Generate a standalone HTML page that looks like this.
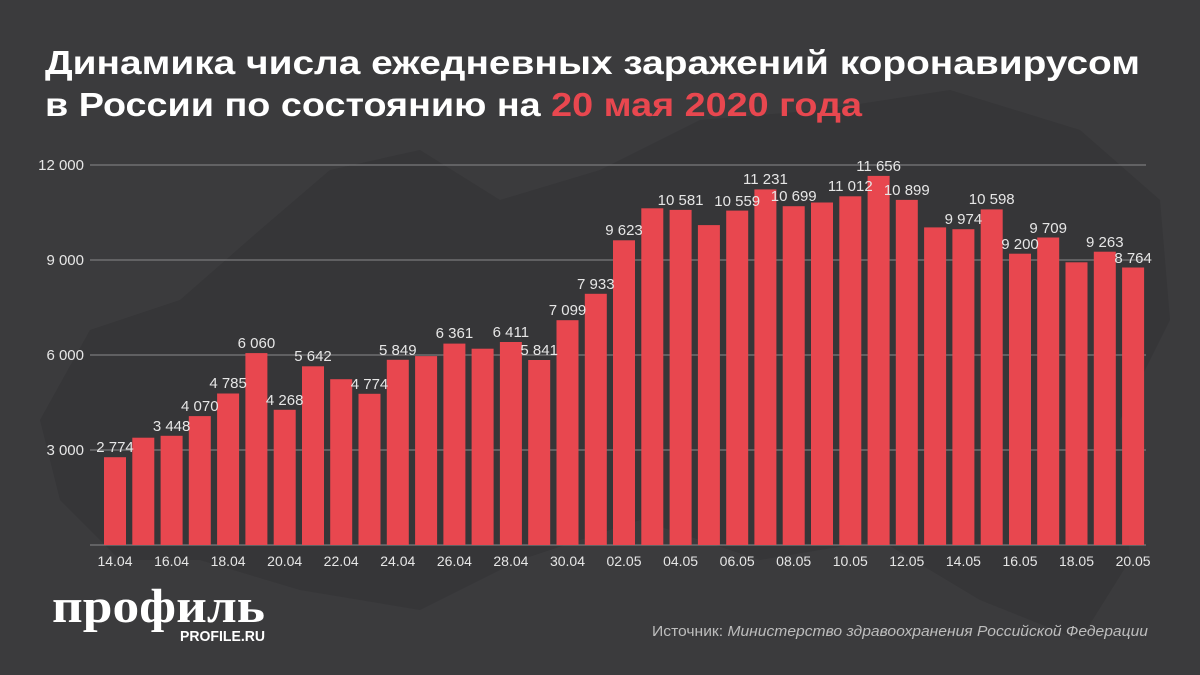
<!DOCTYPE html>
<html><head><meta charset="utf-8"><style>
body{margin:0;background:#3b3b3d;}
svg{display:block}
</style></head><body>
<svg width="1200" height="675" viewBox="0 0 1200 675" xmlns="http://www.w3.org/2000/svg" font-family="Liberation Sans, sans-serif">
<rect width="1200" height="675" fill="#3b3b3d"/>
<path d="M40 420 L90 330 L180 300 L260 230 L330 170 L420 150 L500 200 L600 170 L700 120 L820 110 L950 90 L1080 130 L1160 200 L1170 320 L1120 420 L1130 560 L1080 640 L980 600 L880 540 L760 560 L640 520 L520 560 L420 610 L300 590 L200 560 L120 560 L60 500 Z" fill="#363638"/>
<text x="45" y="74" font-size="33" font-weight="bold" fill="#fff" textLength="1095" lengthAdjust="spacingAndGlyphs">Динамика числа ежедневных заражений коронавирусом</text>
<text x="45" y="116" font-size="33" font-weight="bold" fill="#fff" textLength="817" lengthAdjust="spacingAndGlyphs">в России по состоянию на <tspan fill="#e8474f">20 мая 2020 года</tspan></text>
<g stroke="#8a8a8c" stroke-width="1">
<line x1="90" y1="165" x2="1146" y2="165"/><line x1="90" y1="260" x2="1146" y2="260"/>
<line x1="90" y1="355" x2="1146" y2="355"/><line x1="90" y1="450" x2="1146" y2="450"/>
<line x1="90" y1="545" x2="1146" y2="545"/>
</g>
<g font-size="15" fill="#e6e6e6" text-anchor="end">
<text x="84" y="170">12 000</text><text x="84" y="265">9 000</text><text x="84" y="360">6 000</text><text x="84" y="455">3 000</text>
</g>
<g fill="#e8474f">
<rect x="104" y="457.2" width="22" height="87.8"/>
<rect x="132.3" y="437.7" width="22" height="107.3"/>
<rect x="160.6" y="435.8" width="22" height="109.2"/>
<rect x="188.8" y="416.1" width="22" height="128.9"/>
<rect x="217.1" y="393.5" width="22" height="151.5"/>
<rect x="245.4" y="353.1" width="22" height="191.9"/>
<rect x="273.7" y="409.8" width="22" height="135.2"/>
<rect x="302" y="366.3" width="22" height="178.7"/>
<rect x="330.2" y="379.2" width="22" height="165.8"/>
<rect x="358.5" y="393.8" width="22" height="151.2"/>
<rect x="386.8" y="359.8" width="22" height="185.2"/>
<rect x="415.1" y="356.1" width="22" height="188.9"/>
<rect x="443.4" y="343.6" width="22" height="201.4"/>
<rect x="471.6" y="348.7" width="22" height="196.3"/>
<rect x="499.9" y="342" width="22" height="203"/>
<rect x="528.2" y="360" width="22" height="185"/>
<rect x="556.5" y="320.2" width="22" height="224.8"/>
<rect x="584.8" y="293.8" width="22" height="251.2"/>
<rect x="613" y="240.3" width="22" height="304.7"/>
<rect x="641.3" y="208.3" width="22" height="336.7"/>
<rect x="669.6" y="209.9" width="22" height="335.1"/>
<rect x="697.9" y="225.1" width="22" height="319.9"/>
<rect x="726.2" y="210.6" width="22" height="334.4"/>
<rect x="754.4" y="189.4" width="22" height="355.6"/>
<rect x="782.7" y="206.2" width="22" height="338.8"/>
<rect x="811" y="202.5" width="22" height="342.5"/>
<rect x="839.3" y="196.3" width="22" height="348.7"/>
<rect x="867.6" y="175.9" width="22" height="369.1"/>
<rect x="895.8" y="199.9" width="22" height="345.1"/>
<rect x="924.1" y="227.4" width="22" height="317.6"/>
<rect x="952.4" y="229.2" width="22" height="315.8"/>
<rect x="980.7" y="209.4" width="22" height="335.6"/>
<rect x="1009" y="253.7" width="22" height="291.3"/>
<rect x="1037.2" y="237.5" width="22" height="307.5"/>
<rect x="1065.5" y="262.3" width="22" height="282.7"/>
<rect x="1093.8" y="251.7" width="22" height="293.3"/>
<rect x="1122.1" y="267.5" width="22" height="277.5"/>
</g>
<g font-size="15" fill="#e6e6e6" text-anchor="middle">
<text x="115" y="452">2 774</text>
<text x="171.6" y="431">3 448</text>
<text x="199.8" y="411">4 070</text>
<text x="228.1" y="388">4 785</text>
<text x="256.4" y="348">6 060</text>
<text x="284.7" y="405">4 268</text>
<text x="313" y="361">5 642</text>
<text x="369.5" y="389">4 774</text>
<text x="397.8" y="355">5 849</text>
<text x="454.4" y="338">6 361</text>
<text x="510.9" y="337">6 411</text>
<text x="539.2" y="355">5 841</text>
<text x="567.5" y="315">7 099</text>
<text x="595.8" y="289">7 933</text>
<text x="624" y="235">9 623</text>
<text x="680.6" y="205">10 581</text>
<text x="737.2" y="206">10 559</text>
<text x="765.4" y="184">11 231</text>
<text x="793.7" y="201">10 699</text>
<text x="850.3" y="191">11 012</text>
<text x="878.6" y="171">11 656</text>
<text x="906.8" y="195">10 899</text>
<text x="963.4" y="224">9 974</text>
<text x="991.7" y="204">10 598</text>
<text x="1020" y="249">9 200</text>
<text x="1048.2" y="233">9 709</text>
<text x="1104.8" y="247">9 263</text>
<text x="1133.1" y="263">8 764</text>
</g>
<g font-size="14" fill="#e6e6e6" text-anchor="middle">
<text x="115" y="566">14.04</text><text x="171.6" y="566">16.04</text><text x="228.1" y="566">18.04</text>
<text x="284.7" y="566">20.04</text><text x="341.2" y="566">22.04</text><text x="397.8" y="566">24.04</text>
<text x="454.4" y="566">26.04</text><text x="510.9" y="566">28.04</text><text x="567.5" y="566">30.04</text>
<text x="624" y="566">02.05</text><text x="680.6" y="566">04.05</text><text x="737.2" y="566">06.05</text>
<text x="793.7" y="566">08.05</text><text x="850.3" y="566">10.05</text><text x="906.8" y="566">12.05</text>
<text x="963.4" y="566">14.05</text><text x="1020" y="566">16.05</text><text x="1076.5" y="566">18.05</text>
<text x="1133.1" y="566">20.05</text>
</g>
<text x="652" y="636" font-size="15" fill="#bdbdbd" textLength="496" lengthAdjust="spacingAndGlyphs">Источник: <tspan font-style="italic">Министерство здравоохранения Российской Федерации</tspan></text>
<text x="52" y="622" font-size="48" font-weight="bold" fill="#fff" font-family="Liberation Serif, serif" textLength="213" lengthAdjust="spacingAndGlyphs">профиль</text>
<text x="180" y="641" font-size="15" font-weight="bold" fill="#fff" textLength="85" lengthAdjust="spacingAndGlyphs">PROFILE.RU</text>
</svg>
</body></html>
